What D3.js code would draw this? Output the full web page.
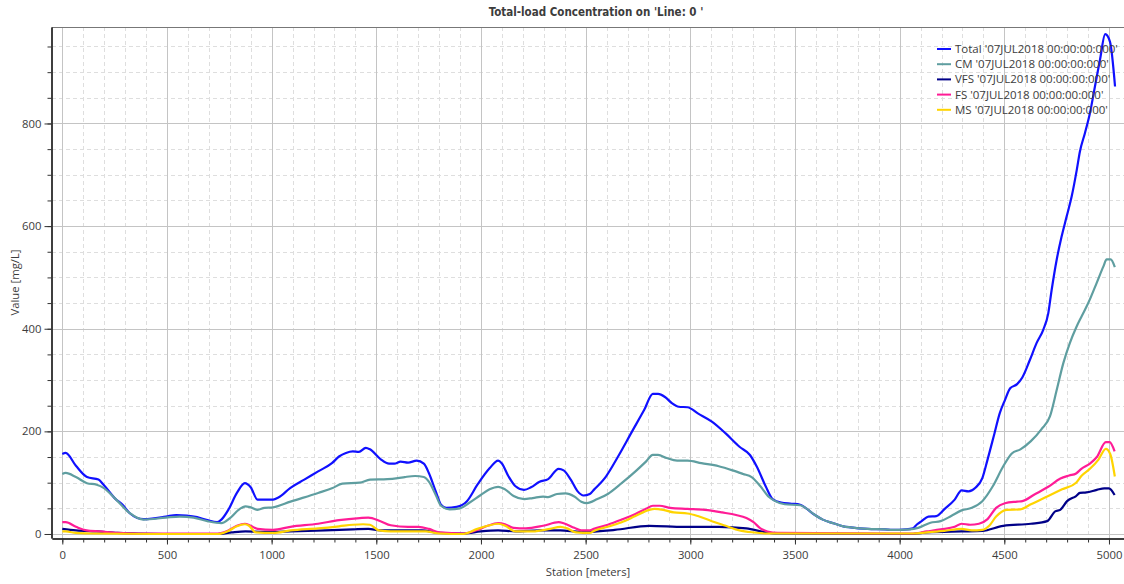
<!DOCTYPE html>
<html>
<head>
<meta charset="utf-8">
<script src="https://cdn.jsdelivr.net/npm/d3@7"></script>
<style>
  html, body { margin: 0; padding: 0; background: #fff; }
  svg { display: block; }
  text { font-family: "Open Sans", "Noto Sans", sans-serif; fill: #3c3c3c; }
</style>
</head>
<body>
<script>
// Station (m) / concentration (mg/L) pairs for each sediment class
const totalData = [[0,156],[16,158],[65,133],[118,111],[173,106],[197,96],[255,68],[288,57],[321,41],[388,29],[429,30],[495,34],[545,37],[594,36],[644,33],[693,27],[740,23],[760,28],[793,47],[834,80],[872,99],[900,91],[933,67],[1007,67],[1032,71],[1090,90],[1156,106],[1222,122],[1288,138],[1322,151],[1355,158],[1388,161],[1417,160],[1450,168],[1470,165],[1520,146],[1561,137],[1586,137],[1616,141],[1652,139],[1693,143],[1727,137],[1751,119],[1784,83],[1809,57],[1834,51],[1884,53],[1933,64],[1983,96],[2041,128],[2082,143],[2099,138],[2132,112],[2165,93],[2206,86],[2239,91],[2280,102],[2321,107],[2371,127],[2395,124],[2429,106],[2462,83],[2490,75],[2520,78],[2539,86],[2597,112],[2655,151],[2722,200],[2780,242],[2821,273],[2846,273],[2879,267],[2912,255],[2945,248],[2987,247],[3036,235],[3103,219],[3169,196],[3235,170],[3285,154],[3318,131],[3360,93],[3393,68],[3434,61],[3484,59],[3525,57],[3550,51],[3592,38],[3633,28],[3683,21],[3731,15],[3766,13],[3848,10],[3931,9],[3964,8],[4031,9],[4064,11],[4081,18],[4105,25],[4137,34],[4175,35],[4213,48],[4263,67],[4296,85],[4329,83],[4362,90],[4395,109],[4420,145],[4453,196],[4478,235],[4503,261],[4528,284],[4561,292],[4586,305],[4622,339],[4654,372],[4686,398],[4710,430],[4726,475],[4750,534],[4774,580],[4798,619],[4822,658],[4846,709],[4861,745],[4885,781],[4909,820],[4933,872],[4957,924],[4982,974],[5005,959],[5029,872]];

const cmData = [[0,117],[16,119],[65,111],[118,99],[164,96],[197,90],[255,68],[321,41],[388,28],[495,32],[561,34],[627,32],[693,25],[760,21],[801,31],[842,47],[875,54],[900,52],[933,47],[966,51],[1007,52],[1090,63],[1222,80],[1288,89],[1338,98],[1421,100],[1470,106],[1553,107],[1603,109],[1636,111],[1685,113],[1727,111],[1751,102],[1784,76],[1809,55],[1850,48],[1900,50],[1941,60],[1999,76],[2041,87],[2082,92],[2115,87],[2156,74],[2206,68],[2247,70],[2297,73],[2321,72],[2363,78],[2404,79],[2446,73],[2479,63],[2506,60],[2556,68],[2606,78],[2672,99],[2738,122],[2788,141],[2821,154],[2846,154],[2887,148],[2937,143],[2987,143],[3053,138],[3136,132],[3202,124],[3252,117],[3293,111],[3335,93],[3376,72],[3401,65],[3451,58],[3525,56],[3550,51],[3592,38],[3633,28],[3683,21],[3731,15],[3766,13],[3848,10],[3931,9],[3964,8],[4047,9],[4089,12],[4147,22],[4196,25],[4246,35],[4296,46],[4345,51],[4395,64],[4445,93],[4495,132],[4536,157],[4577,165],[4627,181],[4677,204],[4718,229],[4750,280],[4782,333],[4813,372],[4845,404],[4869,424],[4901,450],[4941,489],[4973,521],[4989,535],[5008,535],[5028,520]];

const vfsData = [[0,10],[65,7],[164,5],[264,2],[363,1],[594,0],[743,0],[809,3],[875,5],[958,4],[1090,5],[1255,7],[1388,9],[1462,10],[1520,7],[1586,7],[1718,7],[1801,2],[1917,1],[1999,5],[2082,7],[2165,5],[2280,7],[2379,7],[2479,4],[2639,8],[2804,16],[2970,14],[3136,14],[3268,11],[3351,4],[3401,1],[3964,0],[4064,0],[4130,3],[4296,5],[4395,6],[4495,16],[4627,20],[4705,25],[4743,44],[4767,47],[4800,64],[4843,74],[4861,80],[4892,81],[4942,86],[4978,89],[5000,89],[5027,76]];

const fsData = [[0,23],[16,23],[65,14],[115,7],[181,5],[264,2],[363,1],[743,1],[793,7],[834,16],[872,20],[900,16],[933,10],[1007,8],[1090,14],[1222,20],[1322,27],[1421,31],[1462,32],[1520,25],[1569,17],[1652,14],[1702,14],[1751,10],[1801,3],[1917,1],[1983,8],[2032,16],[2082,21],[2115,19],[2156,12],[2214,11],[2297,16],[2371,23],[2395,21],[2446,12],[2479,7],[2520,7],[2539,10],[2606,18],[2672,28],[2738,39],[2788,49],[2821,55],[2854,55],[2904,51],[2987,49],[3070,47],[3152,42],[3219,37],[3268,31],[3302,23],[3335,11],[3368,5],[3418,2],[3964,1],[4064,1],[4130,5],[4196,9],[4263,14],[4296,20],[4337,18],[4379,20],[4420,29],[4461,51],[4503,60],[4561,63],[4586,64],[4644,77],[4710,92],[4768,108],[4810,114],[4843,118],[4868,127],[4909,137],[4942,150],[4985,179],[5003,179],[5027,161]];

const msData = [[0,5],[16,5],[65,2],[131,1],[429,0],[743,0],[793,6],[834,15],[872,19],[892,16],[925,3],[1007,2],[1090,7],[1222,11],[1322,15],[1388,18],[1437,19],[1470,18],[1512,7],[1569,5],[1669,5],[1735,5],[1801,1],[1917,0],[1983,10],[2032,16],[2082,20],[2115,16],[2165,5],[2247,5],[2330,10],[2379,14],[2412,11],[2454,3],[2520,2],[2539,6],[2606,14],[2672,23],[2738,35],[2804,47],[2829,49],[2871,47],[2921,42],[2987,40],[3036,35],[3103,25],[3169,16],[3235,7],[3302,3],[3368,1],[4064,1],[4130,3],[4213,6],[4296,10],[4345,7],[4395,8],[4428,16],[4461,34],[4511,47],[4577,48],[4627,58],[4710,74],[4776,87],[4843,100],[4868,113],[4909,127],[4950,145],[4985,166],[5006,156],[5028,112]];

const seriesNames = ["Total", "CM", "VFS", "FS", "MS"];
const seriesColors = ["#1010ff", "#5f9ea0", "#000088", "#ff1c96", "#ffd400"];
const legendSuffix = " '07JUL2018 00:00:00:000'";
const xTickValues = [0, 500, 1000, 1500, 2000, 2500, 3000, 3500, 4000, 4500, 5000];
const yTickValues = [0, 200, 400, 600, 800];

const seriesData = [totalData, cmData, vfsData, fsData, msData];

const W = 1124, H = 584;
const plot = { left: 52, right: 1124, top: 27, bottom: 538 };

const svg = d3.select("body").append("svg").attr("width", W).attr("height", H);

const x = d3.scaleLinear().domain([-49.2, 5071.8]).range([plot.left, plot.right]);
const y = d3.scaleLinear().domain([-7.8, 988]).range([plot.bottom, plot.top]);

// grid: dashed minor lines, solid major lines
const grid = svg.append("g");
const xMinor = d3.range(0, 5001, 100).filter(v => v % 500 !== 0);
const yMinor = d3.range(0, 951, 50).filter(v => v % 200 !== 0);
const yMajor = d3.range(0, 951, 200);

grid.selectAll(".xminor").data(xMinor).join("line")
  .attr("x1", d => Math.round(x(d)) + 0.5).attr("x2", d => Math.round(x(d)) + 0.5)
  .attr("y1", plot.top).attr("y2", plot.bottom)
  .attr("stroke", "#dedede").attr("stroke-dasharray", "4,3");
grid.selectAll(".yminor").data(yMinor).join("line")
  .attr("y1", d => Math.round(y(d)) + 0.5).attr("y2", d => Math.round(y(d)) + 0.5)
  .attr("x1", plot.left).attr("x2", plot.right)
  .attr("stroke", "#dedede").attr("stroke-dasharray", "4,3");
grid.selectAll(".xmajor").data(xTickValues).join("line")
  .attr("x1", d => Math.round(x(d)) + 0.5).attr("x2", d => Math.round(x(d)) + 0.5)
  .attr("y1", plot.top).attr("y2", plot.bottom)
  .attr("stroke", "#c4c4c4");
grid.selectAll(".ymajor").data(yMajor).join("line")
  .attr("y1", d => Math.round(y(d)) + 0.5).attr("y2", d => Math.round(y(d)) + 0.5)
  .attr("x1", plot.left).attr("x2", plot.right)
  .attr("stroke", "#c4c4c4");

// top frame line
svg.append("line")
  .attr("x1", plot.left).attr("x2", plot.right)
  .attr("y1", plot.top + 0.5).attr("y2", plot.top + 0.5)
  .attr("stroke", "#777");

// series lines
const line = d3.line()
  .x(d => x(d[0]))
  .y(d => y(d[1]))
  .curve(d3.curveMonotoneX);

const lines = svg.append("g");
seriesData.forEach((data, i) => {
  lines.append("path")
    .datum(data)
    .attr("d", line)
    .attr("fill", "none")
    .attr("stroke", seriesColors[i])
    .attr("stroke-width", 2.2)
    .attr("stroke-linejoin", "round");
});

// x axis
const xAxisG = svg.append("g").attr("transform", `translate(0,${plot.bottom + 0.5})`);
xAxisG.call(d3.axisBottom(x).tickValues(d3.range(0, 5001, 100)).tickSize(4).tickFormat("").tickSizeOuter(0));
xAxisG.append("g").call(d3.axisBottom(x).tickValues(xTickValues).tickSize(6).tickSizeOuter(0).tickFormat(d3.format("d")));
xAxisG.selectAll("path.domain").attr("stroke", "#333").attr("stroke-width", 1.5);
xAxisG.selectAll(".tick line").attr("stroke", "#333");
xAxisG.selectAll(".tick text").attr("font-size", 11.3).attr("dy", "1.05em").attr("fill", "#3c3c3c")
  .style("font-family", "'Open Sans', 'Noto Sans', sans-serif");

// y axis
const yAxisG = svg.append("g").attr("transform", `translate(${plot.left - 0.5},0)`);
yAxisG.call(d3.axisLeft(y).tickValues(d3.range(0, 951, 50)).tickSize(4).tickFormat("").tickSizeOuter(0));
yAxisG.append("g").call(d3.axisLeft(y).tickValues(yTickValues).tickSize(7).tickSizeOuter(0).tickFormat(d3.format("d")));
yAxisG.selectAll("path.domain").attr("stroke", "#333").attr("stroke-width", 1.5);
yAxisG.selectAll(".tick line").attr("stroke", "#333");
yAxisG.selectAll(".tick text").attr("font-size", 11.3).attr("fill", "#3c3c3c")
  .style("font-family", "'Open Sans', 'Noto Sans', sans-serif");

// title and axis labels
svg.append("text")
  .attr("x", 596).attr("y", 16)
  .attr("text-anchor", "middle")
  .attr("font-size", 11.5).attr("font-weight", "bold")
  .style("font-family", "'Liberation Sans Narrow', 'DejaVu Sans Condensed', sans-serif")
  .attr("fill", "#111")
  .text("Total-load Concentration on 'Line: 0 '");

svg.append("text")
  .attr("x", (plot.left + plot.right) / 2).attr("y", 576)
  .attr("text-anchor", "middle")
  .attr("font-size", 11.3)
  .text("Station [meters]");

svg.append("text")
  .attr("transform", `translate(19,${(plot.top + plot.bottom) / 2}) rotate(-90)`)
  .attr("text-anchor", "middle")
  .attr("font-size", 11.3)
  .text("Value [mg/L]");

// legend
const legend = svg.append("g").attr("transform", "translate(937,49)");
seriesNames.forEach((name, i) => {
  const g = legend.append("g").attr("transform", `translate(0,${i * 15.2})`);
  g.append("line").attr("x1", 0).attr("x2", 14).attr("y1", 0).attr("y2", 0)
    .attr("stroke", seriesColors[i]).attr("stroke-width", 2);
  g.append("text").attr("x", 18).attr("y", 0).attr("dy", "0.35em")
    .attr("font-size", 11.5).attr("fill", "#333")
    .text(name + legendSuffix);
});
</script>
</body>
</html>
